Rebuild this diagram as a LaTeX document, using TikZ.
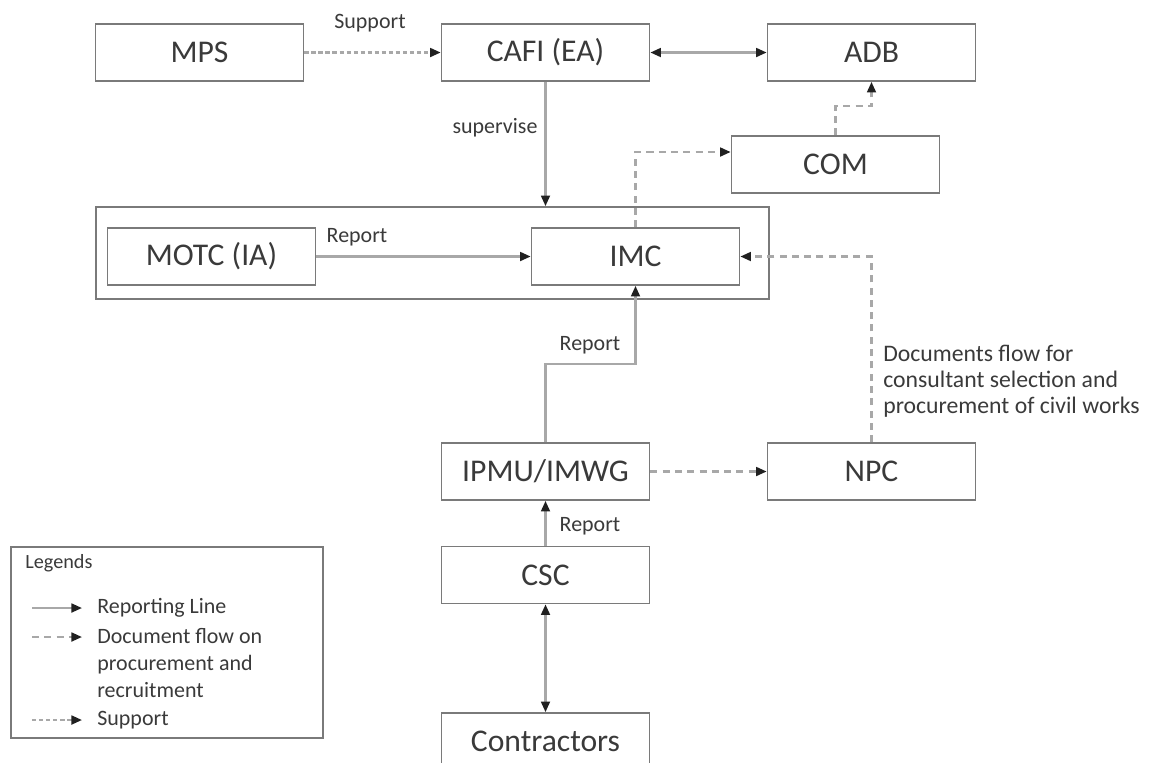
\documentclass[tikz,border=0pt]{standalone}
\usepackage{fontspec}
\setmainfont{Carlito}
\usetikzlibrary{arrows.meta}

\definecolor{txtcol}{HTML}{3A3A3A}
\definecolor{boxcol}{HTML}{7A7A7A}
\definecolor{linecol}{HTML}{A8A8A8}
\definecolor{tipcol}{HTML}{202020}

\begin{document}
\begin{tikzpicture}[x=0.02cm, y=-0.02cm,
    >={Triangle[length=6pt,width=5pt,color=tipcol]},
    unit/.style={draw=boxcol, line width=1pt, minimum width=4.16cm, minimum height=1.14cm,
        inner sep=0pt, font=\fontsize{18}{20}\selectfont, text=txtcol},
    reportline/.style={draw=linecol, line width=1.3pt, ->},
    docline/.style={reportline, dash pattern=on 4pt off 3pt},
    supportline/.style={reportline, dash pattern=on 2.5pt off 1.5pt},
    lbl/.style={font=\fontsize{12.5}{15}\selectfont, text=txtcol, inner sep=0pt}]
    \useasboundingbox (0,0) rectangle (1149,762);
    % The agencies.
        \node[unit] (mps) at (199.5,52.5) {MPS};
        \node[unit] (cafi) at (545.5,52.5) {CAFI (EA)};
        \node[unit] (adb) at (871.5,52.5) {ADB};
        \node[unit] (com) at (835.5,164.5) {COM};
        \node[draw=boxcol, line width=1pt, minimum width=13.46cm, minimum height=1.84cm] (iabox) at (432.5,253) {};
        \node[unit] (motc) at (211.5,256.5) {MOTC (IA)};
        \node[unit] (imc) at (635.5,256.5) {IMC};
        \node[unit] (ipmu) at (545.5,471.5) {IPMU/IMWG};
        \node[unit] (npc) at (871.5,471.5) {NPC};
        \node[unit] (csc) at (545.5,575) {CSC};
        \node[unit] (contr) at (545.5,741.5) {Contractors};
    % The lines between them.
        \draw[supportline] (mps) -- (cafi);
        \draw[reportline, <->] (cafi) -- (adb);
        \draw[reportline] (cafi) -- (cafi |- iabox.north);
        \draw[docline] (com.north) -- ++(0,-29) -| (adb.south);
        \draw[docline] (imc.north) |- ([yshift=0.25cm]com.west);
        \draw[reportline] (motc) -- (imc);
        \draw[docline] (npc.north) |- (imc.east);
        \draw[reportline] (ipmu.north) -- ++(0,-78) -| (imc.south);
        \draw[docline] (ipmu) -- (npc);
        \draw[reportline] (csc) -- (ipmu);
        \draw[reportline, <->] (csc) -- (contr);
    % Below nodes are the labels.
        \node[lbl] (supportlbl) at (370,23) {Support};
        \node[lbl] (supervlbl) at (495,128) {supervise};
        \node[lbl] (reportlbl1) at (357,237) {Report};
        \node[lbl] (reportlbl2) at (590,345) {Report};
        \node[lbl] (reportlbl3) at (590,526) {Report};
        \node[lbl, font=\fontsize{13.5}{14.8}\selectfont, align=left, anchor=north west] (doclbl) at (883,345)
            {Documents flow for\\consultant selection and\\procurement of civil works};
    % This draws the legend.
        \node[draw=boxcol, line width=1pt, minimum width=6.24cm, minimum height=3.82cm] (legend) at (167,642.5) {};
        \node[lbl, font=\fontsize{11.5}{13}\selectfont, anchor=west] (legendtitle) at (25,563) {Legends};
        \coordinate (leg1a) at (32,608); \coordinate (leg1b) at (82,608);
        \coordinate (leg2a) at (32,637); \coordinate (leg2b) at (82,637);
        \coordinate (leg3a) at (32,720); \coordinate (leg3b) at (82,720);
        \draw[reportline] (leg1a) -- (leg1b);
        \draw[docline] (leg2a) -- (leg2b);
        \draw[supportline] (leg3a) -- (leg3b);
        \node[lbl, anchor=west] (leg1txt) at (97,608) {Reporting Line};
        \node[lbl, align=left, anchor=north west, font=\fontsize{12.5}{15.3}\selectfont] (leg2txt) at (97,628)
            {Document flow on\\procurement and\\recruitment};
        \node[lbl, anchor=west] (leg3txt) at (97,720) {Support};
\end{tikzpicture}
\end{document}
